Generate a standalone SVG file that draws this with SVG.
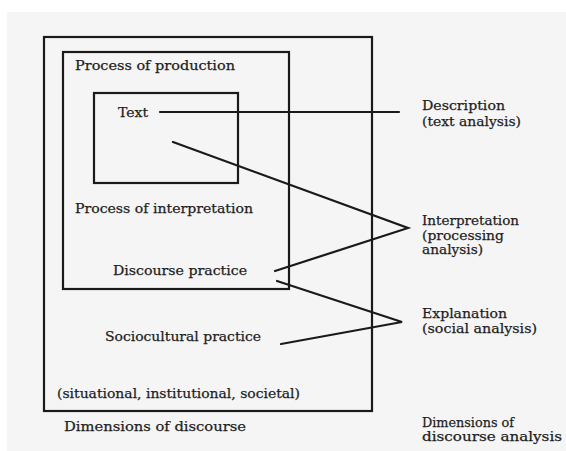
<svg xmlns="http://www.w3.org/2000/svg" width="566" height="451" viewBox="0 0 566 451">
<style>
.box{fill:none;stroke:#1a1a1a;stroke-width:2.2}
.ln{fill:none;stroke:#1a1a1a;stroke-width:2.2;stroke-linecap:round;stroke-linejoin:miter}
text{font-family:"DejaVu Serif","Liberation Serif",serif;font-size:13px;fill:#1e1e1e;stroke:#1e1e1e;stroke-width:0.25}
</style>
<rect x="0" y="0" width="566" height="451" fill="#ffffff"/>
<rect x="7" y="12" width="559" height="439" fill="#f5f5f5"/>
<g id="outer">
<rect class="box" x="44" y="37" width="328" height="374"/>
<text x="57" y="398" textLength="243" lengthAdjust="spacingAndGlyphs">(situational, institutional, societal)</text>
<text x="64" y="431" textLength="182" lengthAdjust="spacingAndGlyphs">Dimensions of discourse</text>
</g>
<g id="sociocultural">
<text x="105" y="341" textLength="156" lengthAdjust="spacingAndGlyphs">Sociocultural practice</text>
</g>
<g id="middle">
<rect class="box" x="63" y="52" width="226" height="237"/>
<text x="75" y="70" textLength="160" lengthAdjust="spacingAndGlyphs">Process of production</text>
<text x="75" y="213" textLength="178" lengthAdjust="spacingAndGlyphs">Process of interpretation</text>
<text x="113" y="275" textLength="134" lengthAdjust="spacingAndGlyphs">Discourse practice</text>
</g>
<g id="inner">
<rect class="box" x="94" y="93" width="144" height="90"/>
<text x="118" y="117" textLength="30" lengthAdjust="spacingAndGlyphs">Text</text>
</g>
<g id="connectors">
<polyline class="ln" points="160,112 399,112"/>
<polyline class="ln" points="173,142 408,228 275,271"/>
<polyline class="ln" points="277,281 402,322 281,344"/>
</g>
<g id="description">
<text x="422" y="110" textLength="83" lengthAdjust="spacingAndGlyphs">Description</text>
<text x="422" y="126" textLength="99" lengthAdjust="spacingAndGlyphs">(text analysis)</text>
</g>
<g id="interpretation">
<text x="422" y="225" textLength="97" lengthAdjust="spacingAndGlyphs">Interpretation</text>
<text x="422" y="240" textLength="82" lengthAdjust="spacingAndGlyphs">(processing</text>
<text x="422" y="254" textLength="61" lengthAdjust="spacingAndGlyphs">analysis)</text>
</g>
<g id="explanation">
<text x="422" y="318" textLength="85" lengthAdjust="spacingAndGlyphs">Explanation</text>
<text x="422" y="333" textLength="115" lengthAdjust="spacingAndGlyphs">(social analysis)</text>
</g>
<g id="dimensions-analysis">
<text x="422" y="427" textLength="92" lengthAdjust="spacingAndGlyphs">Dimensions of</text>
<text x="422" y="441" textLength="140" lengthAdjust="spacingAndGlyphs">discourse analysis</text>
</g>
</svg>
